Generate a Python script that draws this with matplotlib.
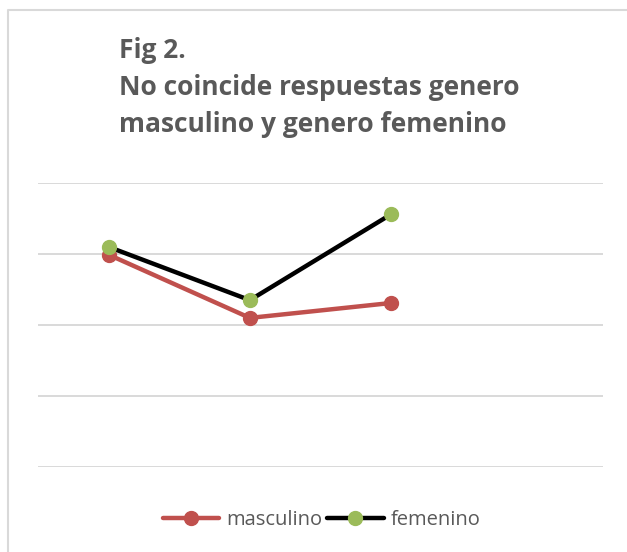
import numpy as np
import matplotlib.pyplot as plt
from matplotlib.lines import Line2D

# Datos
categorias = ["1", "2", "3", "4"]
masculino = [2.99, 2.10, 2.31, np.nan]
femenino = [3.10, 2.35, 3.56, np.nan]

W, H = 627, 552
fig = plt.figure(figsize=(W / 100, H / 100), dpi=100)

# Marco exterior gris claro (solo borde superior e izquierdo visibles)
fig.lines.append(Line2D([8 / W, 8 / W, 1.0], [0, 1 - 10 / H, 1 - 10 / H],
                        transform=fig.transFigure, color="#D9D9D9", lw=1.5))

# Área de trazado
x0, x1 = 38, 603
y_top, y_bot = 183, 467
ax = fig.add_axes([x0 / W, 1 - y_bot / H, (x1 - x0) / W, (y_bot - y_top) / H])
ax.set_xlim(-0.5, len(categorias) - 0.5)
ax.set_ylim(0, 4)
ax.set_yticks(range(5))
ax.grid(axis="y", color="#D9D9D9", lw=1.4)
ax.set_axisbelow(True)
ax.tick_params(left=False, bottom=False, labelleft=False, labelbottom=False)
for s in ax.spines.values():
    s.set_visible(False)
ax.patch.set_alpha(0)

x = np.arange(len(categorias))
ax.plot(x, masculino, "-o", color="#C0504D", lw=3.2, ms=10, mfc="#C0504D",
        mec="#C0504D", label="masculino", solid_capstyle="round", clip_on=False)
ax.plot(x, femenino, "-o", color="black", lw=3.2, ms=10, mfc="#9BBB59",
        mec="#9BBB59", label="femenino", solid_capstyle="round", clip_on=False)

leg = fig.legend(loc="center", bbox_to_anchor=(0.513, 1 - 520 / H), ncol=2, frameon=False,
                 prop={"family": "Open Sans", "size": 14.5}, handlelength=2.8,
                 handletextpad=0.35, columnspacing=0.25)
for t in leg.get_texts():
    t.set_color("#595959")

fig.text(119 / W, 1 - 37 / H, "Fig 2.\nNo coincide respuestas genero\nmasculino y genero femenino",
         ha="left", va="top", fontsize=19, fontweight="bold", family="Open Sans",
         color="#595959", linespacing=1.48)

fig.savefig("out.png", dpi=100)
